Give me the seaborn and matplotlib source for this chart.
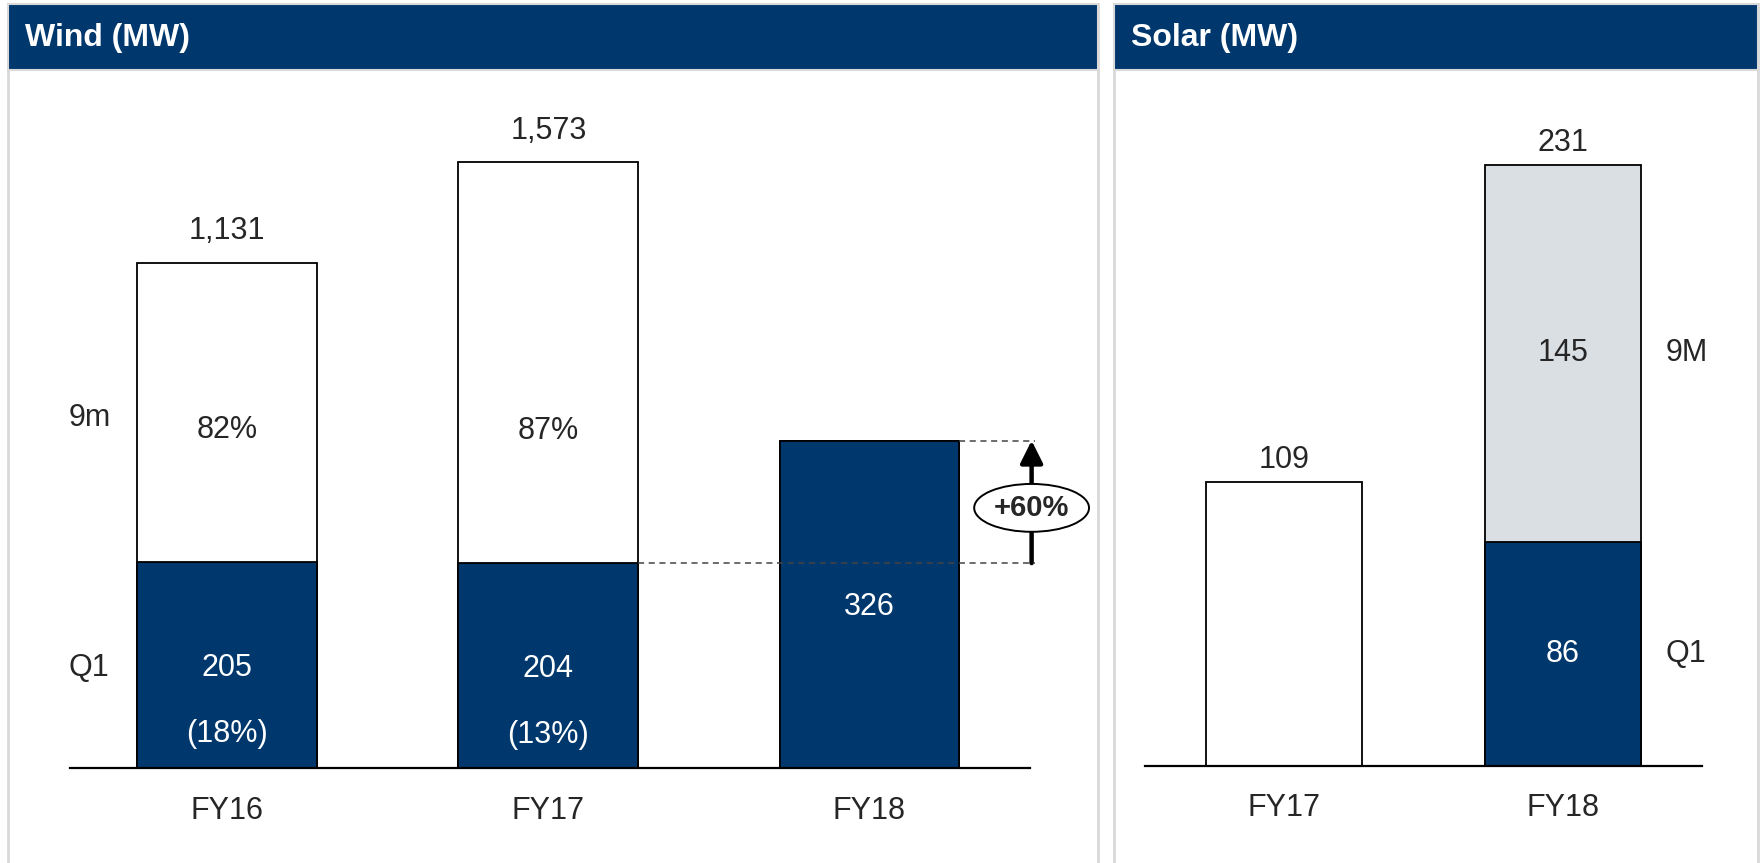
import matplotlib
matplotlib.use("Agg")
import matplotlib.pyplot as plt
from matplotlib.patches import Rectangle
import seaborn as sns

# ---- data ----
wind_years = ["FY16", "FY17", "FY18"]
wind_totals = [1131, 1573]            # full-year totals (FY16, FY17)
wind_q1 = [205, 204, 326]
# heights of the bars as drawn in the original (wind panel is not to scale)
wind_drawn = [503, 603, 326]
wind_9m_share = ["82%", "87%"]
wind_q1_share = ["(18%)", "(13%)"]
wind_growth = "+60%"

solar_years = ["FY17", "FY18"]
solar_totals = [109, 231]
solar_q1_year = ["FY18"]
solar_q1 = [86]
solar_9m = [145]

NAVY = "#00386E"
GREY = "#DADFE3"
BORDER = "#D9D9D9"

sns.set_theme(style="white")
plt.rcParams["font.family"] = ["Liberation Sans", "DejaVu Sans"]

W, H = 1765, 863
fig = plt.figure(figsize=(W / 100, H / 100), dpi=100)


def fx(px):
    return px / W


def fy(py):
    return 1 - py / H


# ---- panels with headers ----
for x0, x1, title in [(8, 1098, "Wind (MW)"), (1114, 1758, "Solar (MW)")]:
    fig.add_artist(Rectangle((fx(x0), -0.02), fx(x1 - x0), fy(4) + 0.02,
                             transform=fig.transFigure, fc="white", ec=BORDER,
                             lw=2, zorder=-2))
    fig.add_artist(Rectangle((fx(x0), fy(70)), fx(x1 - x0), (70 - 4) / H,
                             transform=fig.transFigure, fc=NAVY, ec=BORDER,
                             lw=1.5, zorder=-1))
    fig.text(fx(x0 + 17), fy(38), title, color="white", fontsize=23,
             fontweight="bold", ha="left", va="center")

# ---- wind ----
ax1 = fig.add_axes([fx(70), fy(768), fx(960), (768 - 80) / H])
ax1.set_facecolor("none")
sns.barplot(x=wind_years, y=wind_drawn, color="white", saturation=1,
            width=0.56, edgecolor="black", linewidth=1.3, ax=ax1)
sns.barplot(x=wind_years, y=wind_q1, color=NAVY, saturation=1,
            width=0.56, edgecolor="black", linewidth=1.3, ax=ax1)
ax1.set_xlim(-0.49, 2.5)
ax1.set_ylim(0, 685)

for i, tot in enumerate(wind_totals):
    ax1.annotate(f"{tot:,}", (i, wind_drawn[i]), xytext=(0, 12),
                 textcoords="offset points", ha="center", va="bottom",
                 fontsize=22)
    ax1.annotate(wind_9m_share[i], (i, wind_q1[i]), xytext=(0, 95),
                 textcoords="offset points", ha="center", va="center",
                 fontsize=22)
    ax1.annotate(wind_q1_share[i], (i, wind_q1[i] / 2), xytext=(0, -50),
                 textcoords="offset points", ha="center", va="center",
                 fontsize=22, color="white")
for i, q in enumerate(wind_q1):
    ax1.text(i, q / 2 - 3, f"{q}", ha="center", va="center", fontsize=22,
             color="white")

# row labels
ax1.text(-0.43, wind_q1[0] / 2 - 3, "Q1", ha="center", va="center",
         fontsize=22)
ax1.text(-0.43, (wind_q1[0] + wind_drawn[0]) / 2 - 6, "9m", ha="center",
         va="center", fontsize=22)

# growth marker FY17 Q1 -> FY18 Q1
ax_x = 2.505
ax1.plot([2.28, 2.515], [wind_q1[2], wind_q1[2]], ls=(0, (4, 3)),
         color="#444444", lw=1.1, clip_on=False, zorder=5)
ax1.plot([1.28, 2.515], [wind_q1[1], wind_q1[1]], ls=(0, (4, 3)),
         color="#444444", lw=1.1, clip_on=False, zorder=5)
ax1.annotate("", xy=(ax_x, wind_q1[2]), xytext=(ax_x, wind_q1[1]),
             arrowprops=dict(arrowstyle="-|>", lw=3.2, color="black",
                             mutation_scale=34, shrinkA=0, shrinkB=0),
             annotation_clip=False, zorder=6)
ax1.text(ax_x, (wind_q1[1] + wind_q1[2]) / 2 - 6, wind_growth, ha="center",
         va="center", fontsize=21, fontweight="bold", zorder=7,
         bbox=dict(boxstyle="ellipse,pad=0.1", fc="white", ec="black",
                   lw=1.4))

# ---- solar ----
ax2 = fig.add_axes([fx(1145), fy(765.5), fx(557), (765.5 - 80) / H])
ax2.set_facecolor("none")
sns.barplot(x=solar_years, y=solar_totals, hue=solar_years,
            palette=["white", GREY], saturation=1, legend=False,
            width=0.56, edgecolor="black", linewidth=1.3, ax=ax2)
sns.barplot(x=solar_q1_year, y=solar_q1, order=solar_years, color=NAVY,
            saturation=1, width=0.56, edgecolor="black", linewidth=1.3,
            ax=ax2)
ax2.set_xlim(-0.5, 1.5)
ax2.set_ylim(0, 263.7)

for i, tot in enumerate(solar_totals):
    ax2.annotate(f"{tot}", (i, tot), xytext=(0, 5),
                 textcoords="offset points", ha="center", va="bottom",
                 fontsize=22)
ax2.text(1, solar_q1[0] / 2, f"{solar_q1[0]}", ha="center", va="center",
         fontsize=22, color="white")
ax2.text(1, solar_q1[0] + solar_9m[0] / 2, f"{solar_9m[0]}", ha="center",
         va="center", fontsize=22)
ax2.text(1.37, solar_q1[0] / 2, "Q1", ha="left", va="center", fontsize=22)
ax2.text(1.37, solar_q1[0] + solar_9m[0] / 2, "9M", ha="left", va="center",
         fontsize=22)

for ax in (ax1, ax2):
    sns.despine(ax=ax, left=True)
    ax.spines["bottom"].set_linewidth(1.6)
    ax.spines["bottom"].set_color("black")
    ax.set_yticks([])
    ax.set_xlabel("")
    ax.set_ylabel("")
    ax.tick_params(axis="x", length=0, labelsize=22, pad=20)

fig.savefig("out.png", dpi=100)
